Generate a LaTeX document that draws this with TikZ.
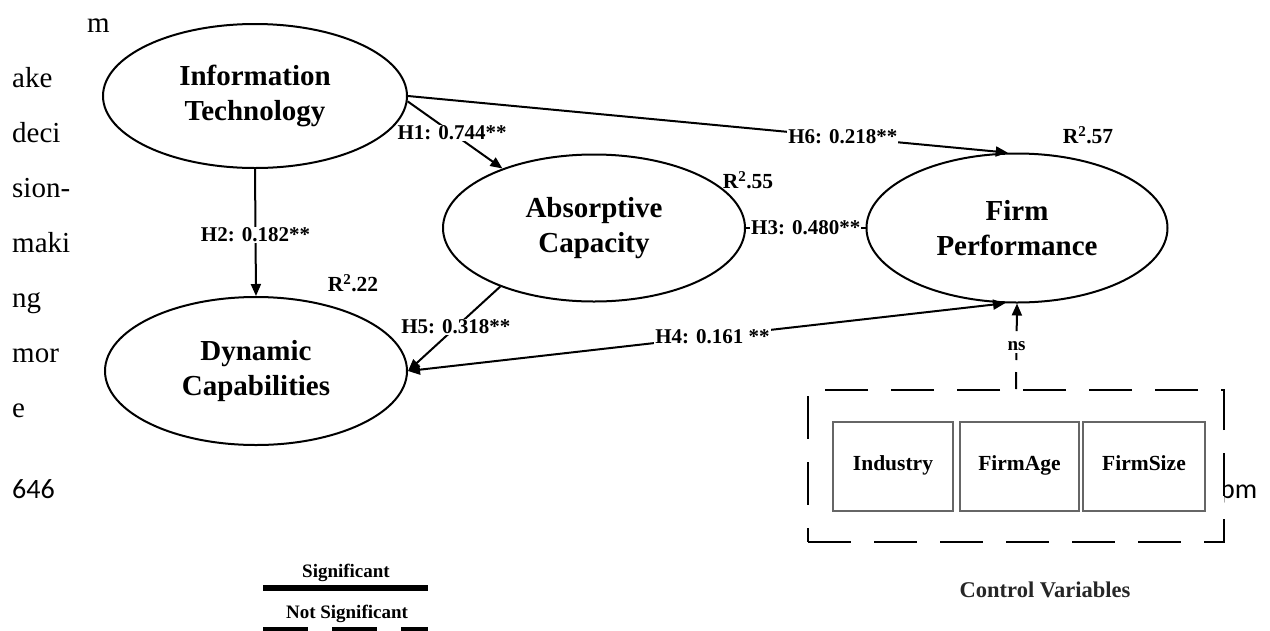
\documentclass[tikz,border=0pt]{standalone}
\usepackage{fontspec}
\setmainfont{Liberation Serif}
\newfontfamily\calib{Carlito}
\usetikzlibrary{shapes.geometric,arrows.meta}
\begin{document}
\begin{tikzpicture}[x=1pt,y=-1pt,
  latent/.style={ellipse,draw,line width=2pt,inner sep=0pt,align=center,
    font=\fontsize{29}{35}\selectfont\bfseries},
  conn/.style={line width=2pt},
  tipend/.style={-{Triangle[length=12pt,width=10pt]}},
  tipboth/.style={{Triangle[length=12pt,width=10pt]}-{Triangle[length=12pt,width=10pt]}},
  hlab/.style={fill=white,inner sep=1pt,font=\fontsize{21}{23}\selectfont\bfseries},
  rsq/.style={inner sep=0pt,font=\fontsize{21.5}{23}\selectfont\bfseries},
  ctrl/.style={draw=black!60,line width=2.5pt,minimum height=89pt,inner sep=0pt,
    text height=0.7em,text depth=0pt,
    font=\fontsize{21.5}{23}\selectfont\bfseries},
  pagetext/.style={anchor=base west,inner sep=0pt,font=\fontsize{29}{30}\selectfont},
  legtext/.style={inner sep=0pt,font=\fontsize{19}{21}\selectfont\bfseries}
]
\useasboundingbox[fill=white] (0,0) rectangle (1270,630);

% stray page text
\node[pagetext] (t1) at (87,32) {m};
\node[pagetext] (t2) at (12,87) {ake};
\node[pagetext] (t3) at (12,142) {deci};
\node[pagetext] (t4) at (12,197) {sion-};
\node[pagetext] (t5) at (12,252) {maki};
\node[pagetext] (t6) at (12,307) {ng};
\node[pagetext] (t7) at (12,362) {mor};
\node[pagetext] (t8) at (12,417) {e};
\node[anchor=base west,inner sep=0pt,font=\calib\fontsize{28}{30}\selectfont] (t9) at (12,498) {646};
\node[anchor=base west,inner sep=0pt,font=\calib\fontsize{28}{30}\selectfont] (t10) at (1220,498) {pm};

% latent constructs
\node[latent,minimum width=304pt,minimum height=144pt] (it) at (255,96) {Information\\Technology};
\node[latent,minimum width=302pt,minimum height=147pt] (ac) at (594,228) {Absorptive\\Capacity};
\node[latent,minimum width=301pt,minimum height=149pt] (fp) at (1017,228) {Firm\\Performance};
\node[latent,minimum width=302pt,minimum height=148pt] (dc) at (256,371) {Dynamic\\Capabilities};

% R squared
\node[rsq] (r22) at (353,283) {R\textsuperscript{2}.22};
\node[rsq] (r55) at (748,180) {R\textsuperscript{2}.55};
\node[rsq] (r57) at (1088,135) {R\textsuperscript{2}.57};

% paths
\draw[conn,tipend] (it.east) -- node[hlab,pos=0.725] (h6) {H6: 0.218**} (fp.97);
\draw[conn,tipend] (it.-2) -- node[hlab,pos=0.47] (h1) {H1: 0.744**} (ac.147);
\draw[conn,tipend] (it.south) -- node[hlab,pos=0.52] (h2) {H2: 0.182**} (dc.north);
\draw[conn] (ac.east) -- node[hlab,pos=0.5] (h3) {H3: 0.480**} (fp.west);
\draw[conn,tipend] (ac.212) -- node[hlab,pos=0.48] (h5) {H5: 0.318**} (dc.east);
\draw[conn,tipboth] (dc.east) -- node[hlab,pos=0.51] (h4) {H4: 0.161 **} (fp.261);

% control variables
\node[draw,dash pattern=on 43pt off 23pt,line width=2pt,fill=white,
  minimum width=416pt,minimum height=152pt,inner sep=0pt] (cv) at (1016,466) {};
\node[ctrl,minimum width=120pt] (ind) at (893,466.5) {Industry};
\node[ctrl,minimum width=119pt] (age) at (1019.5,466.5) {FirmAge};
\node[ctrl,minimum width=122pt] (size) at (1144,466.5) {FirmSize};
\draw[conn,dash pattern=on 17pt off 12pt,tipend] (cv.north) -- node[legtext,fill=white,inner sep=2pt,pos=0.5] (ns) {ns} (fp.south);
\node[inner sep=0pt,font=\fontsize{22.5}{24}\selectfont\bfseries,text=black!85] (cvl) at (1045,590) {Control Variables};

% legend
\node[legtext] (sig) at (346,573) {Significant};
\coordinate (s1) at (263,588);
\coordinate (s2) at (428,588);
\draw[line width=6pt] (s1) -- (s2);
\node[legtext] (nsig) at (347,614) {Not Significant};
\coordinate (n1) at (263,630);
\coordinate (n2) at (428,630);
\draw[line width=6pt,dash pattern=on 45pt off 24pt] (n1) -- (n2);
\end{tikzpicture}
\end{document}
